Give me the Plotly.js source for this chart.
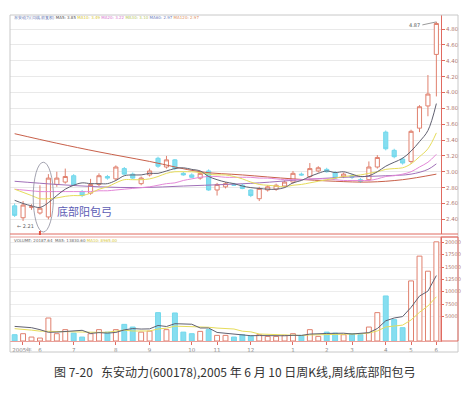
<!DOCTYPE html>
<html><head><meta charset="utf-8">
<script src="https://cdn.plot.ly/plotly-3.0.1.min.js"></script>
<style>html,body{margin:0;padding:0;background:#fff;}#chart{width:471px;height:415px;}</style>
</head><body><div id="chart"></div>
<script>
// weekly bars, index 0 .. 50
const weekIndex = Array.from({length:51},(_,i)=>i);
const openP  = [2.57,2.42,2.55,2.48,2.43,2.84,2.87,2.95,2.75,2.73,2.84,2.94,2.91,3.04,2.97,2.85,2.96,3.17,3.06,3.15,2.98,2.96,2.92,3.01,2.77,2.81,2.84,2.83,2.77,2.66,2.77,2.78,2.82,2.87,2.97,2.94,3.01,3.03,2.99,2.94,2.95,2.90,2.90,3.06,3.50,3.27,3.16,3.13,3.55,3.83,4.48];
const highP  = [2.60,2.63,2.59,2.83,2.97,3.00,3.04,2.97,2.77,2.91,2.98,2.96,3.08,3.06,2.99,2.94,3.04,3.19,3.20,3.16,3.00,2.98,3.00,3.03,2.86,2.87,2.86,2.85,2.78,2.81,2.83,2.85,2.89,3.01,2.99,3.11,3.07,3.05,3.01,2.99,2.97,2.92,3.13,3.21,3.52,3.29,3.18,3.53,3.84,4.22,4.89];
const lowP   = [2.43,2.38,2.52,2.46,2.40,2.81,2.85,2.82,2.68,2.71,2.82,2.90,2.89,2.96,2.91,2.83,2.94,3.05,3.04,3.02,2.95,2.92,2.90,2.76,2.70,2.79,2.82,2.78,2.68,2.63,2.75,2.76,2.80,2.85,2.95,2.92,2.99,2.99,2.91,2.92,2.91,2.86,2.88,3.04,3.27,3.17,3.09,3.10,3.50,3.70,3.95];
const closeP = [2.45,2.58,2.56,2.54,2.92,2.92,2.94,2.83,2.70,2.84,2.95,2.92,3.06,2.97,2.92,2.92,3.01,3.07,3.15,3.04,2.96,2.93,2.98,2.77,2.84,2.85,2.83,2.79,2.70,2.79,2.81,2.83,2.87,2.98,2.96,3.04,3.05,3.00,2.92,2.97,2.93,2.88,3.06,3.18,3.29,3.19,3.11,3.51,3.82,3.98,4.87];

const ma5  = [2.64,2.60,2.57,2.55,2.61,2.70,2.78,2.83,2.86,2.85,2.85,2.85,2.89,2.95,2.96,2.96,2.98,2.98,3.01,3.04,3.05,3.03,3.01,2.94,2.90,2.87,2.85,2.82,2.80,2.79,2.78,2.78,2.80,2.86,2.89,2.94,2.98,3.01,2.99,3.00,2.97,2.94,2.95,3.00,3.07,3.12,3.17,3.26,3.38,3.52,3.86];
const ma10 = [2.78,2.74,2.70,2.66,2.66,2.67,2.69,2.70,2.70,2.73,2.78,2.81,2.86,2.90,2.90,2.90,2.91,2.94,2.98,3.00,3.00,3.00,2.99,2.97,2.96,2.96,2.94,2.91,2.87,2.84,2.83,2.82,2.81,2.83,2.84,2.86,2.88,2.90,2.92,2.94,2.95,2.96,2.98,3.00,3.03,3.04,3.05,3.10,3.19,3.29,3.49];
const ma20 = [2.78,2.77,2.76,2.75,2.75,2.75,2.75,2.75,2.75,2.75,2.76,2.76,2.77,2.78,2.79,2.80,2.81,2.83,2.85,2.86,2.89,2.91,2.93,2.94,2.94,2.93,2.93,2.93,2.93,2.92,2.92,2.91,2.90,2.90,2.90,2.91,2.91,2.91,2.90,2.89,2.89,2.89,2.89,2.91,2.94,2.95,2.97,3.00,3.06,3.12,3.22];
const ma30Idx = [0,5,10,15,20,25,29,34,39,44,47,49,50];
const ma30 = [2.88,2.84,2.81,2.80,2.82,2.84,2.86,2.90,2.93,2.95,2.97,3.03,3.10];
const ma60Idx = [0,5,10,16,22,27,33,38,42,46,50];
const ma60 = [3.48,3.36,3.25,3.13,3.00,2.96,2.91,2.88,2.87,2.90,2.97];

const volume = [1280,1480,800,600,4660,1480,2300,1600,800,1480,2300,1800,2300,3370,2830,1800,2000,5750,2300,5680,1800,1480,1950,2300,1140,1140,800,1280,1000,1280,940,940,1140,1480,1140,2300,940,1800,1600,1280,1480,1280,2830,5750,9130,4330,2700,12180,17200,14150,20100];
const volMa5 = [2960,2830,2700,2300,1764,1804,1968,2128,2168,1532,1696,1596,1736,2250,2520,2420,2460,3150,2936,3506,3506,3402,2642,2642,1734,1602,1466,1332,1072,1100,1060,1088,1060,1156,1128,1400,1400,1532,1556,1584,1420,1488,1694,2524,4094,4664,4948,6818,9108,10112,13266];
const volMa10 = [2500,2400,2200,2000,1950,1850,1800,1750,1700,1648,1750,1782,1932,2209,2026,2058,2028,2443,2593,3013,2963,2931,2896,2789,2620,2554,2434,1987,1857,1417,1331,1277,1196,1114,1114,1230,1244,1296,1356,1356,1410,1444,1613,2040,2839,3042,3218,4256,5816,7103,8965];

const monthTickIdx = [0.9,3,7,12,16,21,24,28,33,37,40,44,47,50];
const monthTickText = ['2005年','6','7','8','9','10','11','12','1','2','3','4','5','6'];
const priceTicks = [2.40,2.60,2.80,3.00,3.20,3.40,3.60,3.80,4.00,4.20,4.40,4.60,4.80];
const volTicks = [5000,7500,10000,12500,15000,17500,20000];
const volTickText = ['5000','7500','10000','12500','15000','17500','20000'];

const UP='#e0806e', DOWN='#72d8ec', DOWNF='#86def0';
const isUp = closeP.map((c,i)=>c>=openP[i]);

const traces = [
 {type:'candlestick', x:weekIndex, open:openP, high:highP, low:lowP, close:closeP,
  xaxis:'x', yaxis:'y', whiskerwidth:0,
  increasing:{line:{color:UP,width:1}, fillcolor:'#ffffff'},
  decreasing:{line:{color:DOWN,width:1}, fillcolor:DOWNF}, hoverinfo:'skip'},
 {type:'scatter', mode:'lines', x:ma60Idx, y:ma60, line:{color:'#c8604a',width:1,shape:'spline'}, xaxis:'x', yaxis:'y'},
 {type:'scatter', mode:'lines', x:ma30Idx, y:ma30, line:{color:'#a070b8',width:1,shape:'spline'}, xaxis:'x', yaxis:'y'},
 {type:'scatter', mode:'lines', x:weekIndex, y:ma20, line:{color:'#e488d8',width:1,shape:'spline'}, xaxis:'x', yaxis:'y'},
 {type:'scatter', mode:'lines', x:weekIndex, y:ma10, line:{color:'#e6dc5a',width:1,shape:'spline'}, xaxis:'x', yaxis:'y'},
 {type:'scatter', mode:'lines', x:weekIndex, y:ma5, line:{color:'#606070',width:1,shape:'spline'}, xaxis:'x', yaxis:'y'},
 {type:'bar', x:weekIndex, y:volume, width:0.58, xaxis:'x', yaxis:'y2',
  marker:{color:isUp.map(u=>u?'#ffffff':DOWNF), line:{color:isUp.map(u=>u?UP:DOWN),width:1}}},
 {type:'scatter', mode:'lines', x:weekIndex, y:volMa10, line:{color:'#e6dc5a',width:1}, xaxis:'x', yaxis:'y2'},
 {type:'scatter', mode:'lines', x:weekIndex, y:volMa5, line:{color:'#606070',width:1}, xaxis:'x', yaxis:'y2'}
];

const PW=431, PH=326; // plot area in px
const px=v=>(v-10)/PW, py=v=>(341-v)/PH;
const small={family:'DejaVu Sans, sans-serif', size:5.5};

const layout = {
 width:471, height:415, margin:{l:10,r:30,t:15,b:74},
 paper_bgcolor:'#ffffff', plot_bgcolor:'#ffffff', showlegend:false,
 bargap:0.3,
 xaxis:{domain:[0,1], anchor:'y2', range:[-0.55,50.55], rangeslider:{visible:false},
   tickvals:monthTickIdx, ticktext:monthTickText, tickfont:{...small,color:'#888'},
   ticks:'outside', ticklen:3, tickcolor:'#e06a60', showgrid:false, zeroline:false,
   showline:true, linecolor:'#e9a09a', linewidth:1},
 yaxis:{domain:[py(234),1], range:[2.215,4.977], side:'right', tickvals:priceTicks,
   tickformat:'.2f', tickfont:{...small,color:'#b07870'}, ticks:'outside', ticklen:3, tickcolor:'#e06a60',
   showgrid:true, gridcolor:'#e9e9e9', gridwidth:1, zeroline:false,
   showline:true, linecolor:'#e06a60', linewidth:1},
 yaxis2:{domain:[0,py(237)], range:[0,21080], side:'right', anchor:'x', tickvals:volTicks, ticktext:volTickText,
   tickfont:{...small,size:5,color:'#b07870'}, ticks:'outside', ticklen:2, tickcolor:'#e06a60',
   showgrid:true, gridcolor:'#ededed', gridwidth:1, zeroline:false,
   showline:true, linecolor:'#e06a60', linewidth:1},
 shapes:[
   {type:'rect', xref:'paper', yref:'paper', x0:0, x1:px(458), y0:py(352), y1:1, line:{color:'#c8c8c8',width:1}},
   {type:'line', xref:'paper', yref:'paper', x0:0, x1:px(458), y0:py(234), y1:py(234), line:{color:'#e06a60',width:1}},
   {type:'line', xref:'paper', yref:'paper', x0:0, x1:px(458), y0:py(237), y1:py(237), line:{color:'#e9a09a',width:1}},
   {type:'rect', xref:'paper', yref:'paper', x0:1, x1:px(458), y0:0, y1:py(237), line:{color:'#e06a60',width:1}},
   {type:'circle', xref:'x', yref:'y', x0:2.2, x1:4.6, y0:2.24, y1:3.12, line:{color:'#8c8c9c',width:0.8}},
   {type:'line', xref:'x', yref:'paper', x0:3, x1:3, y0:py(235), y1:py(231), line:{color:'#e05040',width:2}}
 ],
 annotations:[
   {xref:'paper', yref:'paper', x:0.005, y:py(18), xanchor:'left', yanchor:'middle', showarrow:false,
    font:{...small,size:4}, text:'<span style="color:#5a6fb0">东安动力(周线,前复权)</span> <span style="color:#555">MA5: 3.85</span> <span style="color:#d8c838">MA10: 3.49</span> <span style="color:#d878d0">MA20: 3.22</span> <span style="color:#b8c860">MA30: 3.10</span> <span style="color:#7080c0">MA60: 2.97</span> <span style="color:#e09060">MA120: 2.97</span>'},
   {xref:'paper', yref:'paper', x:0.005, y:py(240), xanchor:'left', yanchor:'middle', showarrow:false,
    font:{...small,size:4}, text:'<span style="color:#666">VOLUME: 20187.64  MA5: 13830.60</span> <span style="color:#d8c838">MA10: 8965.00</span>'},
   {xref:'x', yref:'y', x:8.3, y:2.50, showarrow:false, text:'底部阳包弓',
    font:{family:'Noto Sans CJK SC, sans-serif', size:11, color:'#5c5cb4'}},
   {xref:'x', yref:'y', x:0.1, y:2.31, xanchor:'left', yanchor:'middle', showarrow:false, text:'← 2.21',
    font:{...small,size:5,color:'#666'}},
   {xref:'x', yref:'y', x:50, y:4.89, ax:-14, ay:3, showarrow:true, arrowhead:0, arrowwidth:0.6, arrowcolor:'#555',
    text:'4.87', font:{...small,size:5,color:'#555'}, xanchor:'right'},
   {xref:'paper', yref:'paper', x:px(234), y:py(371), xanchor:'center', yanchor:'middle', showarrow:false,
    text:'图 7-20   东安动力(600178),2005 年 6 月 10 日周K线,周线底部阳包弓',
    font:{family:'Noto Sans CJK SC, sans-serif', size:12, color:'#333'}}
 ]
};
Plotly.newPlot('chart', traces, layout, {staticPlot:true, displayModeBar:false});
</script></body></html>
